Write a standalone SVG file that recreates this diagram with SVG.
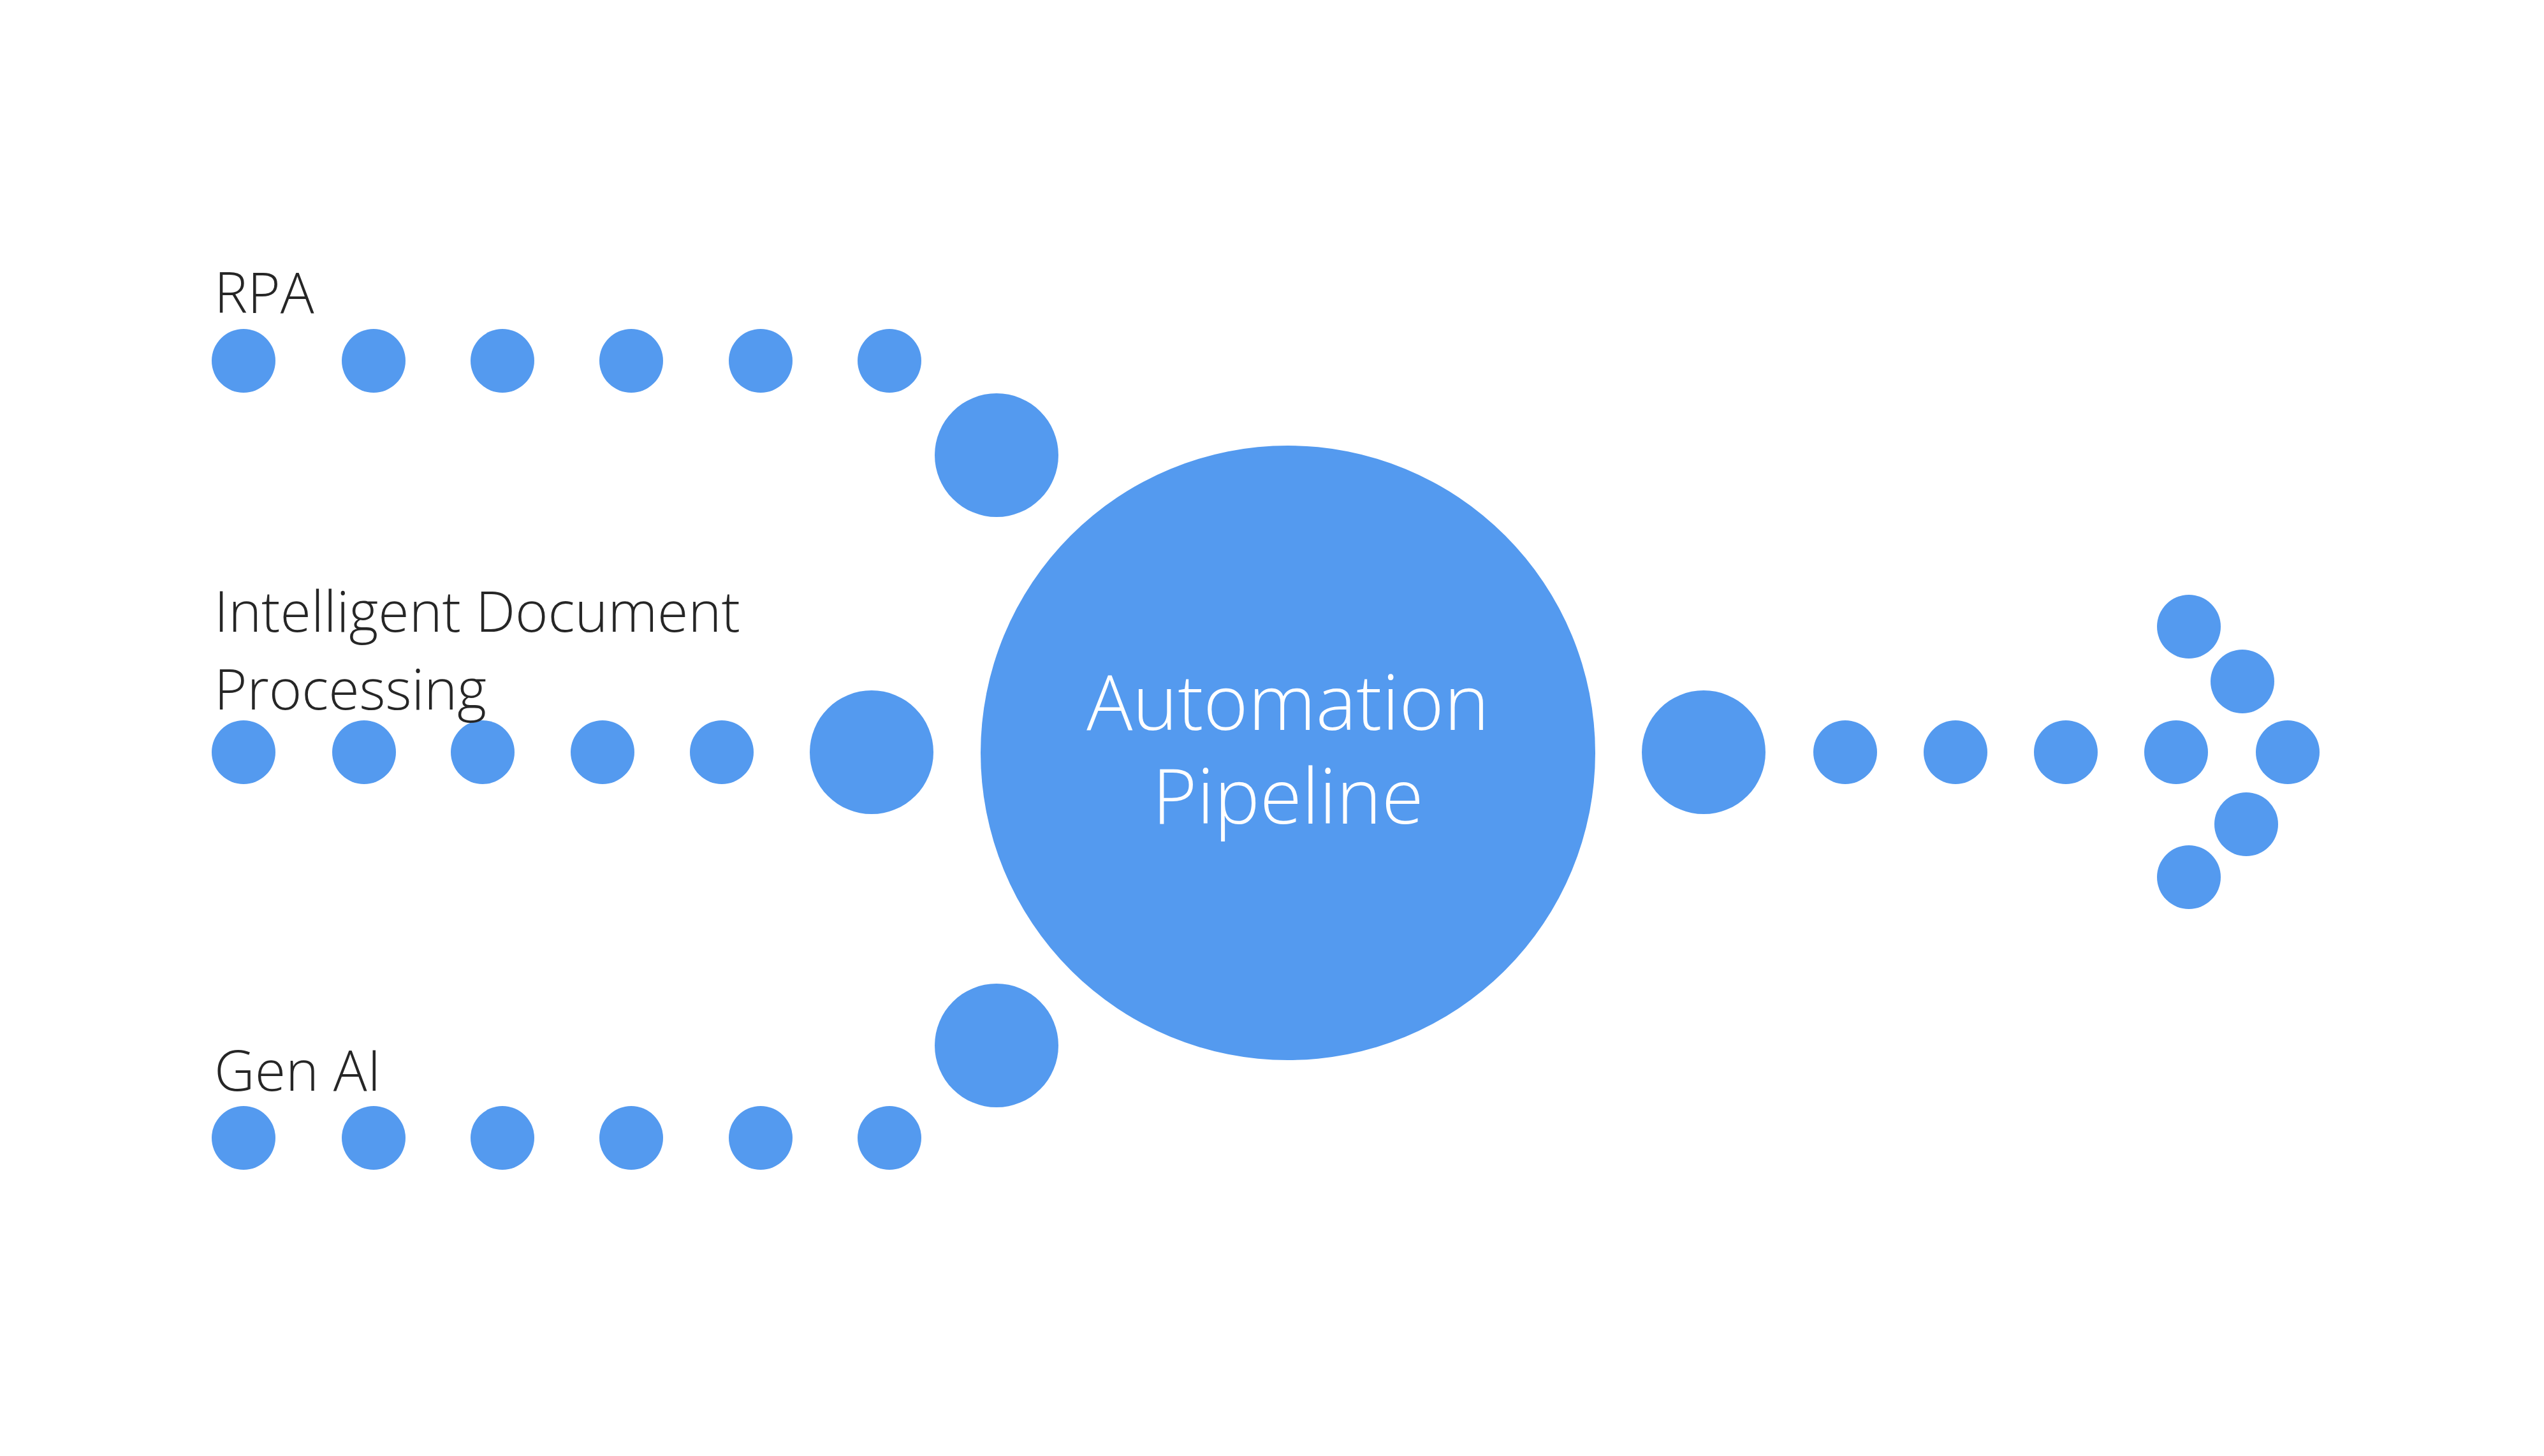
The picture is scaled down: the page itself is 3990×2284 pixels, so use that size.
<svg xmlns="http://www.w3.org/2000/svg" width="3990" height="2284" viewBox="0 0 3990 2284">
<style>
.dot{fill:#549AEF}
.lbl{font-family:"Open Sans","Noto Sans","Liberation Sans",sans-serif;font-weight:300;font-size:88px;fill:#262626}
.hub{font-family:"Open Sans","Noto Sans","Liberation Sans",sans-serif;font-weight:300;font-size:120px;fill:#ffffff;text-anchor:middle}
</style>
<rect width="3990" height="2284" fill="#ffffff"/>
<g id="connectors">
<g id="rpa-chain">
<circle class="dot" cx="382" cy="566" r="50"/>
<circle class="dot" cx="586" cy="566" r="50"/>
<circle class="dot" cx="788" cy="566" r="50"/>
<circle class="dot" cx="990" cy="566" r="50"/>
<circle class="dot" cx="1193" cy="566" r="50"/>
<circle class="dot" cx="1395" cy="566" r="50"/>
<circle class="dot" cx="1563" cy="714" r="97"/>
</g>
<g id="idp-chain">
<circle class="dot" cx="382" cy="1180" r="50"/>
<circle class="dot" cx="571" cy="1180" r="50"/>
<circle class="dot" cx="757" cy="1180" r="50"/>
<circle class="dot" cx="945" cy="1180" r="50"/>
<circle class="dot" cx="1132" cy="1180" r="50"/>
<circle class="dot" cx="1367" cy="1180" r="97"/>
</g>
<g id="genai-chain">
<circle class="dot" cx="382" cy="1785" r="50"/>
<circle class="dot" cx="586" cy="1785" r="50"/>
<circle class="dot" cx="788" cy="1785" r="50"/>
<circle class="dot" cx="990" cy="1785" r="50"/>
<circle class="dot" cx="1193" cy="1785" r="50"/>
<circle class="dot" cx="1395" cy="1785" r="50"/>
<circle class="dot" cx="1563" cy="1640" r="97"/>
</g>
<g id="output-arrow">
<circle class="dot" cx="2672" cy="1180" r="97"/>
<circle class="dot" cx="2894" cy="1180" r="50"/>
<circle class="dot" cx="3067" cy="1180" r="50"/>
<circle class="dot" cx="3240" cy="1180" r="50"/>
<circle class="dot" cx="3413" cy="1180" r="50"/>
<circle class="dot" cx="3588" cy="1180" r="50"/>
<circle class="dot" cx="3433" cy="983" r="50"/>
<circle class="dot" cx="3517" cy="1069" r="50"/>
<circle class="dot" cx="3523" cy="1293" r="50"/>
<circle class="dot" cx="3433" cy="1376" r="50"/>
</g>
</g>
<g id="label-rpa">
<text class="lbl" x="336" y="491">RPA</text>
</g>
<g id="label-idp">
<text class="lbl" x="336" y="991"><tspan x="336" y="991">Intelligent Document</tspan><tspan x="336" y="1113">Processing</tspan></text>
</g>
<g id="label-genai">
<text class="lbl" x="336" y="1711">Gen AI</text>
</g>
<g id="automation-pipeline">
<circle class="dot" cx="2020" cy="1181" r="482"/>
<text class="hub" x="2020" y="1145"><tspan x="2020" y="1145">Automation</tspan><tspan x="2020" y="1292">Pipeline</tspan></text>
</g>
</svg>
